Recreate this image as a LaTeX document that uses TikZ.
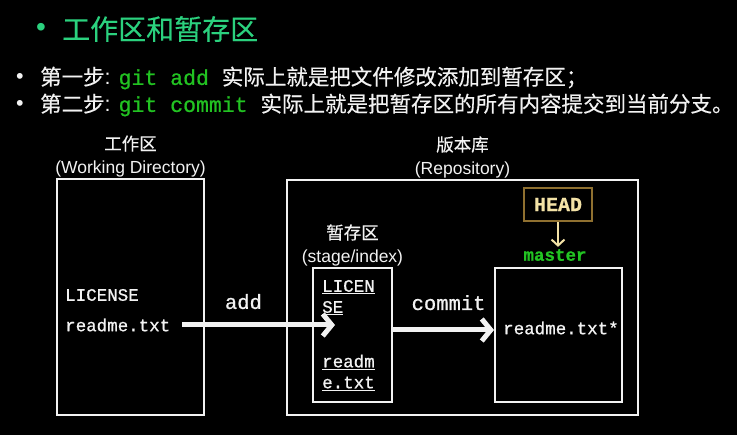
\documentclass[tikz,border=0pt]{standalone}
\usepackage{fontspec}
\setmainfont{Liberation Sans}
\setmonofont[FakeBold=0.8]{Liberation Mono}
\newfontfamily\cjk[FakeBold=0.4]{Noto Sans CJK SC}
\usetikzlibrary{arrows.meta,positioning}
\definecolor{titlegreen}{HTML}{2BD17E}
\definecolor{gitgreen}{HTML}{22C322}
\definecolor{headgold}{HTML}{8F7030}
\definecolor{headtext}{HTML}{F3E2A6}
\definecolor{linewhite}{HTML}{F2F2F2}
\tikzset{>={Straight Barb[length=9pt,width=22pt]}}

\begin{document}
\begin{tikzpicture}[x=1pt, y=-1pt, node distance=1pt,
  area/.style={draw=linewhite, line width=2pt, inner sep=0pt},
  file/.style={text=linewhite, font=\fontsize{17.5}{21}\ttfamily, inner sep=0pt, anchor=west, align=left},
  cmd/.style={text=linewhite, font=\fontsize{20.5}{24}\ttfamily},
  caption/.style={text=linewhite, font=\fontsize{17.5}{23}\selectfont, align=center, inner sep=0pt},
  line/.style={text=linewhite, font=\fontsize{21.5}{26}\selectfont, inner sep=0pt, anchor=west},
  flow/.style={->, draw=linewhite, line width=5pt}]
		\fill[black] (0,0) rectangle (737,435);
		\useasboundingbox (0,0) rectangle (737,435);
		
		\node[text=titlegreen, font=\fontsize{28}{32}\selectfont, inner sep=0pt] (titledot) at (41,30) {•};
		\node[text=titlegreen, font=\fontsize{28}{32}\cjk, inner sep=0pt, anchor=west] (title) at (62,29) {工作区和暂存区};
		
		\node[line] (dot1) at (16,78) {•};
		\node[line] (step1) at (40,78) {{\cjk 第一步}: {\color{gitgreen}\ttfamily git add }{\cjk 实际上就是把文件修改添加到暂存区；}};
		\node[line] (dot2) at (16,105) {•};
		\node[line] (step2) at (40,105) {{\cjk 第二步}: {\color{gitgreen}\ttfamily git commit }{\cjk 实际上就是把暂存区的所有内容提交到当前分支。}};
		
		\node[area, minimum width=147pt, minimum height=236pt] (wdbox)     at (130.5,297) {};
		\node[area, minimum width=351pt, minimum height=235pt] (repobox)   at (462.5,297.5) {};
		\node[area, minimum width=79pt,  minimum height=134pt] (stagebox)  at (352.5,335) {};
		\node[area, minimum width=127pt, minimum height=134pt] (masterbox) at (558.5,335) {};
		
		\node[caption, above=of wdbox]    (wdname)    {{\cjk 工作区}\\(Working Directory)};
		\node[caption, above=of repobox]  (reponame)  {{\cjk 版本库}\\(Repository)};
		\node[caption, above=of stagebox] (stagename) {{\cjk 暂存区}\\(stage/index)};
		
		\node[draw=headgold, line width=2pt, minimum width=68pt, minimum height=33pt, text=headtext, font=\fontsize{20}{24}\ttfamily\bfseries] (head) at (558,204.5) {HEAD};
		\node[text=gitgreen, font=\fontsize{17.5}{21}\ttfamily\bfseries, inner sep=2pt] (master) at (555,255) {master};
		\draw[->, draw=headtext, line width=2pt, >={Straight Barb[length=6pt,width=13pt]}] (head.south) -- (head.south |- master.north);
		
		\node[file] (wdlicense)    at (65,295)    {LICENSE};
		\node[file] (wdreadme)     at (65,325)    {readme.txt};
		\node[file] (stagelicense) at (322,297.5) {\underline{LICEN}\\\underline{SE}};
		\node[file] (stagereadme)  at (322,372.5) {\underline{readm}\\\underline{e.txt}};
		\node[file] (masterreadme) at (503,328)   {readme.txt*};
		
		\coordinate (addend) at (335,325);
		\draw[flow] ([xshift=12pt]wdreadme.east) -- node[pos=0.4, above=10pt, cmd] {add} (addend);
		\draw[flow] ([yshift=5pt]stagebox.east) -- node[pos=0.55, above=14pt, cmd] {commit} ([yshift=5pt]masterbox.west);
	\end{tikzpicture}
\end{document}
